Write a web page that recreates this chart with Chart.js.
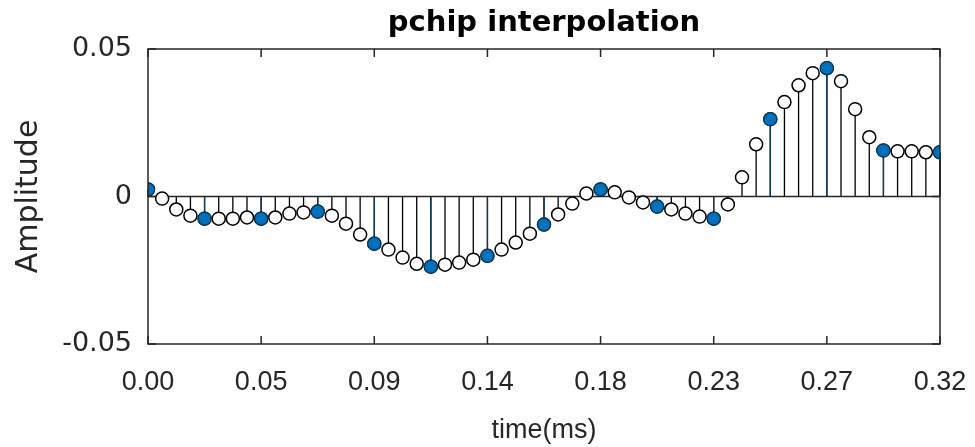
<!DOCTYPE html>
<html>
<head>
<meta charset="utf-8">
<script src="https://cdn.jsdelivr.net/npm/chart.js@4"></script>
<style>
  html, body { margin: 0; padding: 0; background: #fff; }
</style>
</head>
<body>
<canvas id="stemChart" width="975" height="447"></canvas>
<script>
// time axis in ms
const tEnd = 0.32;

// original samples (filled markers), every 4th point of the interpolated grid
const sampleValues = [0.0024, -0.0075, -0.0075, -0.0051, -0.0160, -0.0238, -0.0201, -0.0095,
  0.0024, -0.0034, -0.0075, 0.0262, 0.0435, 0.0156, 0.0150];

// pchip interpolated values (open markers)
const pchipValues = [
  0.0024, -0.0007, -0.0044, -0.0065, -0.0075, -0.0075, -0.0075, -0.0071, -0.0075, -0.0071,
  -0.0058, -0.0054, -0.0051, -0.0065, -0.0092, -0.0129, -0.0160, -0.0180, -0.0207, -0.0228,
  -0.0238, -0.0231, -0.0224, -0.0214, -0.0201, -0.0180, -0.0156, -0.0126, -0.0095, -0.0061,
  -0.0024, 0.0010, 0.0024, 0.0014, -0.0003, -0.0020, -0.0034, -0.0044, -0.0058, -0.0068,
  -0.0075, -0.0027, 0.0065, 0.0177, 0.0262, 0.0320, 0.0377, 0.0418, 0.0435, 0.0391,
  0.0296, 0.0201, 0.0156, 0.0153, 0.0153, 0.0150, 0.0150
];

const xTickLabels = ["0.00", "0.05", "0.09", "0.14", "0.18", "0.23", "0.27", "0.32"];
const yTickValues = [-0.05, 0, 0.05];
const yTickLabels = ["-0.05", "0", "0.05"];

const sampleStep = tEnd / (sampleValues.length - 1);
const pchipStep = tEnd / (pchipValues.length - 1);
const xTickValues = xTickLabels.map((_, i) => i * tEnd / (xTickLabels.length - 1));

const samplePts = sampleValues.map((v, i) => ({ x: i * sampleStep, y: v }));
const pchipPts = pchipValues.map((v, i) => ({ x: i * pchipStep, y: v }));

const axisColor = "#262626";

const stemPlugin = {
  id: "stems",
  beforeDatasetsDraw(chart) {
    const ctx = chart.ctx;
    const y0 = chart.scales.y.getPixelForValue(0);
    const area = chart.chartArea;
    ctx.save();
    // stems: open series first, filled on top
    [[1, "#000000"], [0, "#0b3a5c"]].forEach(([di, col]) => {
      ctx.strokeStyle = col;
      ctx.lineWidth = 1.3;
      chart.getDatasetMeta(di).data.forEach(p => {
        ctx.beginPath();
        ctx.moveTo(p.x, y0);
        ctx.lineTo(p.x, p.y);
        ctx.stroke();
      });
    });
    // baseline
    ctx.strokeStyle = axisColor;
    ctx.lineWidth = 1.5;
    ctx.beginPath();
    ctx.moveTo(area.left, y0);
    ctx.lineTo(area.right, y0);
    ctx.stroke();
    ctx.restore();
  },
  afterDraw(chart) {
    const ctx = chart.ctx;
    const a = chart.chartArea;
    const xs = chart.scales.x, ys = chart.scales.y;
    const tl = 8;
    ctx.save();
    ctx.strokeStyle = axisColor;
    ctx.lineWidth = 1.5;
    ctx.strokeRect(a.left, a.top, a.right - a.left, a.bottom - a.top);
    ctx.beginPath();
    xTickValues.forEach(v => {
      const x = xs.getPixelForValue(v);
      ctx.moveTo(x, a.bottom); ctx.lineTo(x, a.bottom - tl);
      ctx.moveTo(x, a.top); ctx.lineTo(x, a.top + tl);
    });
    yTickValues.forEach(v => {
      const y = ys.getPixelForValue(v);
      ctx.moveTo(a.left, y); ctx.lineTo(a.left + tl, y);
      ctx.moveTo(a.right, y); ctx.lineTo(a.right - tl, y);
    });
    ctx.stroke();
    // title centred over the axes
    ctx.fillStyle = "#000";
    ctx.font = "bold 29px 'DejaVu Sans'";
    ctx.textAlign = "center";
    ctx.textBaseline = "alphabetic";
    ctx.fillText("pchip interpolation", (a.left + a.right) / 2, 31);
    ctx.restore();
  }
};

new Chart(document.getElementById("stemChart"), {
  type: "scatter",
  data: {
    datasets: [
      {
        label: "samples",
        data: samplePts,
        pointRadius: 6.5,
        pointBackgroundColor: "#0072BD",
        pointBorderColor: "#0b3a5c",
        pointBorderWidth: 1.2,
        showLine: false
      },
      {
        label: "pchip",
        data: pchipPts,
        pointRadius: 6.5,
        pointBackgroundColor: "#ffffff",
        pointBorderColor: "#000000",
        pointBorderWidth: 1.5,
        showLine: false
      }
    ]
  },
  options: {
    responsive: false,
    animation: false,
    layout: { padding: { top: 49, right: 35, left: 0, bottom: 0 } },
    plugins: { legend: { display: false }, tooltip: { enabled: false } },
    scales: {
      x: {
        type: "linear",
        min: 0,
        max: tEnd,
        grid: { display: false, drawTicks: false },
        border: { display: false },
        afterBuildTicks: s => { s.ticks = xTickValues.map(v => ({ value: v })); },
        afterFit: s => { s.height = 103; s.paddingLeft = 0; s.paddingRight = 0; },
        ticks: {
          padding: 22,
          color: axisColor,
          font: { family: "'Liberation Sans Narrow', 'Liberation Sans'", size: 27 },
          callback: (v, i) => xTickLabels[i]
        },
        title: {
          display: true,
          text: "time(ms)",
          color: axisColor,
          font: { family: "'Liberation Sans'", size: 27, lineHeight: 1 },
          padding: { top: 0, bottom: 3 }
        }
      },
      y: {
        min: -0.05,
        max: 0.05,
        grid: { display: false, drawTicks: false },
        border: { display: false },
        afterBuildTicks: s => { s.ticks = yTickValues.map(v => ({ value: v })); },
        afterFit: s => { s.width = 148; s.paddingTop = 0; s.paddingBottom = 0; },
        ticks: {
          padding: 16,
          color: axisColor,
          font: { family: "'DejaVu Sans'", size: 27 },
          callback: (v, i) => yTickLabels[i]
        },
        title: {
          display: true,
          text: "Amplitude",
          color: axisColor,
          font: { family: "'DejaVu Sans'", size: 30 },
          padding: { top: 11, bottom: 0 }
        }
      }
    }
  },
  plugins: [stemPlugin]
});
</script>
</body>
</html>
